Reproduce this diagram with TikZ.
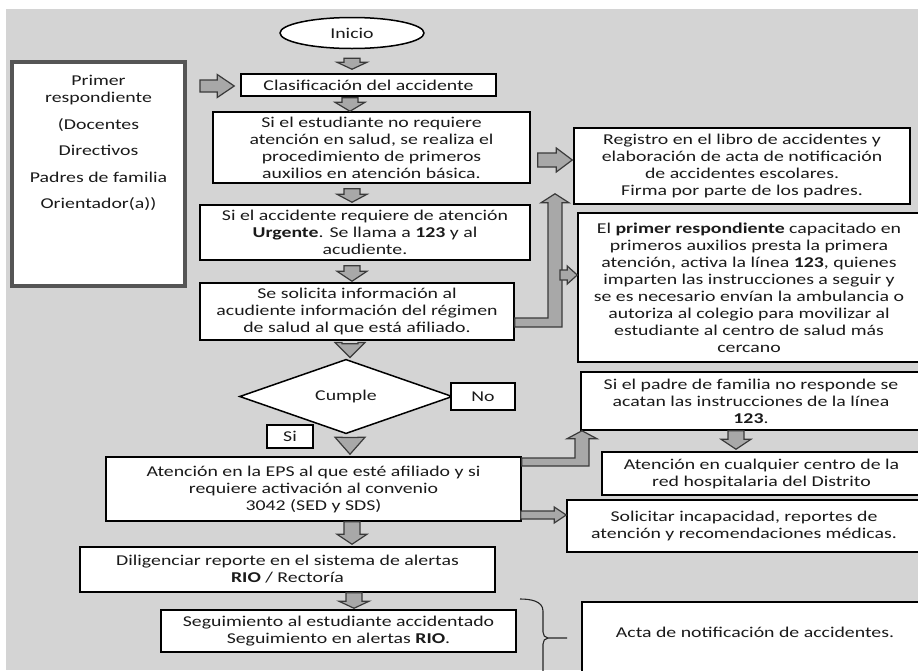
\documentclass[tikz,border=0pt]{standalone}
\usepackage{fontspec}
\setmainfont{Carlito}[FakeStretch=1.32]
\usetikzlibrary{shapes.geometric,calc}
\definecolor{marble}{HTML}{D4D4D4}
\definecolor{agray}{HTML}{A8A8A8}
\definecolor{aline}{HTML}{3A3A3A}
\definecolor{framegray}{HTML}{555555}
\definecolor{inktext}{HTML}{1A1A1A}
% down block arrow: from node, to node, x centre, top gap, bottom gap, head length
\newcommand\dnarr[6]{%
  \path[barrow] let \p1=(#1.south), \p2=(#2.north) in
    ({(#3-8)*1pt},{\y1-(#4)*1pt}) -- ({(#3+8)*1pt},{\y1-(#4)*1pt})
    -- ({(#3+8)*1pt},{\y2+(#5+#6)*1pt}) -- ({(#3+15)*1pt},{\y2+(#5+#6)*1pt})
    -- ({(#3)*1pt},{\y2+(#5)*1pt})
    -- ({(#3-15)*1pt},{\y2+(#5+#6)*1pt}) -- ({(#3-8)*1pt},{\y2+(#5+#6)*1pt}) -- cycle;}
% right block arrow: from, to, y centre, left gap, right gap, head length, shaft half, head half
\newcommand\rtarr[8]{%
  \path[barrow] let \p1=(#1), \p2=(#2) in
    ({\x1+(#4)*1pt},{-(#3-#7)*1pt}) -- ({\x2-(#5+#6)*1pt},{-(#3-#7)*1pt})
    -- ({\x2-(#5+#6)*1pt},{-(#3-#8)*1pt}) -- ({\x2-(#5)*1pt},{-(#3)*1pt})
    -- ({\x2-(#5+#6)*1pt},{-(#3+#8)*1pt}) -- ({\x2-(#5+#6)*1pt},{-(#3+#7)*1pt})
    -- ({\x1+(#4)*1pt},{-(#3+#7)*1pt}) -- cycle;}
\begin{document}
\begin{tikzpicture}[x=1pt,y=-1pt,
  box/.style={draw=black, line width=1.5pt, fill=white, inner sep=0pt, align=center,
    font=\fontsize{15}{17}\selectfont, text=inktext},
  txt/.style={inner sep=0pt, align=center, font=\fontsize{15}{17}\selectfont, text=inktext},
  barrow/.style={fill=agray, draw=aline, line width=1.2pt, line join=miter},
  bracel/.style={draw=black!85, line width=1.1pt}]
\useasboundingbox (0,0) rectangle (918,670);
\clip (0,0) rectangle (918,670);
\fill[white] (0,0) rectangle (918,670);
\fill[marble] (6,9) rectangle (918,670);

% nodes
\node[box, ellipse, minimum width=144pt, minimum height=31pt] (ini) at (352,33) {Inicio};
\node[box, draw=framegray, line width=4pt, minimum width=173pt, minimum height=224pt] (resp) at (98.5,174) {};
\node[txt] (respt) at (98.5,143) {Primer\\respondiente\\[9.5pt](Docentes\\[9.5pt]Directivos\\[9.5pt]Padres de familia\\[9.5pt]Orientador(a))};
\node[box, minimum width=255pt, minimum height=22pt] (clas) at (368.5,85) {Clasificación del accidente};
\node[box, minimum width=317pt, minimum height=71pt] (b2) at (371.5,147.5)
  {Si el estudiante no requiere\\atención en salud, se realiza el\\procedimiento de primeros\\auxilios en atención básica.};
\node[box, minimum width=330pt, minimum height=55pt] (b3) at (365,232.5)
  {Si el accidente requiere de atención\\\textbf{Urgente}. Se llama a \textbf{123} y al\\acudiente.};
\node[box, minimum width=314pt, minimum height=57pt] (b4) at (357,311.5)
  {Se solicita información al\\acudiente información del régimen\\de salud al que está afiliado.};
\node[box, minimum width=336pt, minimum height=76pt] (reg) at (742,166)
  {Registro en el libro de accidentes y\\elaboración de acta de notificación\\de accidentes escolares.\\Firma por parte de los padres.};
\node[box, minimum width=342pt, minimum height=149pt] (prs) at (749,287.5)
  {El \textbf{primer respondiente} capacitado en\\primeros auxilios presta la primera\\atención, activa la línea \textbf{123}, quienes\\imparten las instrucciones a seguir y\\se es necesario envían la ambulancia o\\autoriza al colegio para movilizar al\\estudiante al centro de salud más\\cercano};
\node[box, diamond, minimum width=213pt, minimum height=47pt] (cum) at (346,396.5) {Cumple};
\node[box, minimum width=64pt, minimum height=27pt] (no) at (483,396.5) {No};
\node[box, minimum width=46pt, minimum height=23pt] (si) at (290,436.5) {Si};
\node[box, minimum width=415pt, minimum height=64pt] (eps) at (313.5,489)
  {Atención en la EPS al que esté afiliado y si\\requiere activación al convenio\\3042 (SED y SDS)};
\node[box, minimum width=340pt, minimum height=58pt] (pad) at (751,401)
  {Si el padre de familia no responde se\\acatan las instrucciones de la línea\\\textbf{123}.};
\node[box, minimum width=319pt, minimum height=43pt] (red) at (761.5,473.5)
  {Atención en cualquier centro de la\\red hospitalaria del Distrito};
\node[box, minimum width=354pt, minimum height=52pt] (sol) at (744,526)
  {Solicitar incapacidad, reportes de\\atención y recomendaciones médicas.};
\node[box, minimum width=415pt, minimum height=45pt] (dil) at (287.5,569.5)
  {Diligenciar reporte en el sistema de alertas\\\textbf{RIO} / Rectoría};
\node[box, minimum width=355pt, minimum height=42pt] (seg) at (338.5,631)
  {Seguimiento al estudiante accidentado\\Seguimiento en alertas \textbf{RIO}.};
\node[box, minimum width=340pt, minimum height=80pt] (acta) at (752,642) {};
\node[txt] (actat) at (755,632) {Acta de notificación de accidentes.};

% down arrows
\dnarr{ini}{clas}{352}{9}{4}{7}
\dnarr{clas}{b2}{350}{1}{0}{9}
\dnarr{b2}{b3}{352}{5}{2}{8}
\dnarr{b3}{b4}{352}{5}{1}{10}
\dnarr{b4}{cum}{350}{3}{1}{15}
\dnarr{cum}{eps}{350}{3}{2}{17}
\dnarr{eps}{dil}{352}{0}{2}{10}
\dnarr{dil}{seg}{354}{0}{1}{7}
\dnarr{pad}{red}{736}{0}{2}{10}

% right arrows
\rtarr{resp.east}{clas.west}{86}{13}{6}{17}{6}{11.5}
\rtarr{b2.east}{reg.west}{160}{7}{1}{16}{7}{12}
\rtarr{eps.east}{sol.west}{515}{-1}{0}{12}{4}{8}

% elbow arrow b4 -> up beside reg
\path[barrow] let \p1=(b4.east), \p2=(reg.south) in
  (\x1,-318pt) -- (548pt,-318pt) -- (548pt,{\y2+2pt}) -- (541pt,{\y2+2pt})
  -- (555pt,{\y2+11pt}) -- (569pt,{\y2+2pt}) -- (562pt,{\y2+2pt})
  -- (562pt,-327pt) -- (\x1,-327pt) -- cycle;
\coordinate (e1r) at (562,275);
\rtarr{e1r}{prs.west}{275}{-2}{0}{10}{5}{9}

% elbow arrow eps -> pad
\path[barrow] let \p1=(eps.east), \p2=(pad.south) in
  (\x1,-458pt) -- (575pt,-458pt) -- (575pt,{\y2-8pt}) -- (567pt,{\y2-8pt})
  -- (582pt,\y2) -- (597pt,{\y2-8pt}) -- (589pt,{\y2-8pt})
  -- (589pt,-466pt) -- (\x1,-466pt) -- cycle;

% brace
\coordinate (brt) at (520,599);
\coordinate (brm) at (548,638);
\coordinate (brk) at (567,638);
\coordinate (brb) at (543,672);
\draw[bracel] (brt) to[out=0,in=90] (543,611) -- (543,632) to[out=-90,in=180] (brm) -- (brk);
\draw[bracel] (brm) to[out=180,in=90] (543,644) -- (brb);
\end{tikzpicture}
\end{document}
